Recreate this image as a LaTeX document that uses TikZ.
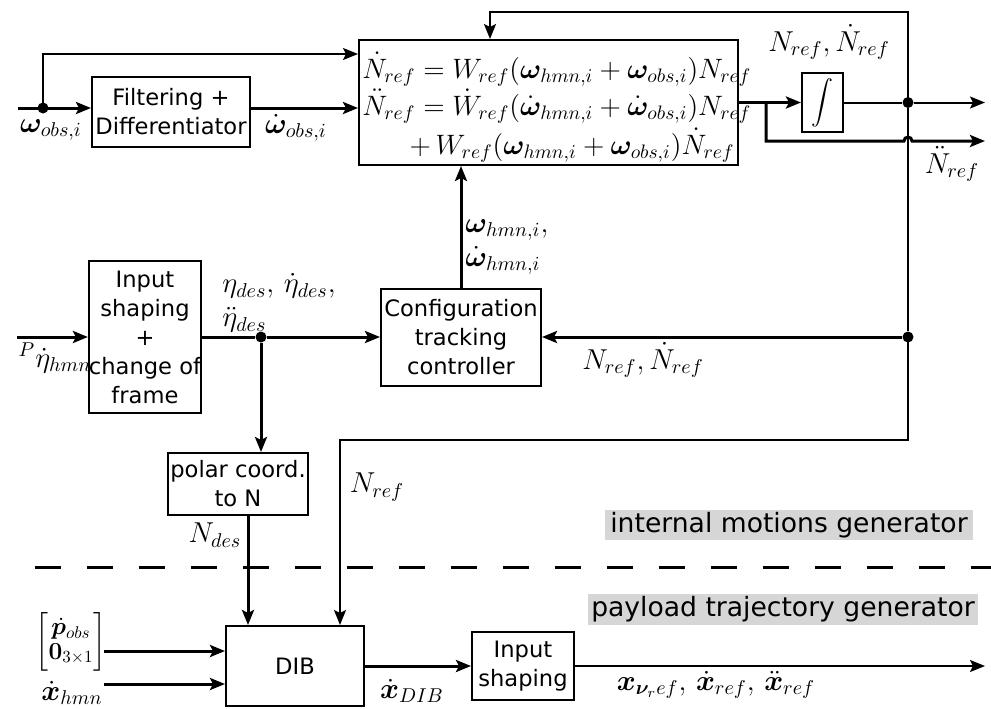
\documentclass[tikz,border=0pt]{standalone}
\usepackage{amsmath,bm,graphicx}
\usepackage{fontspec}
\setsansfont{DejaVu Sans}
\usetikzlibrary{arrows.meta}
\tikzset{
  blk/.style={draw, line width=1pt, font=\sffamily\fontsize{11.3}{14.5}\selectfont, align=center, inner sep=0pt},
  wthick/.style={line width=1.5pt},
  wthin/.style={line width=1pt},
  arr/.style={-{Stealth[length=7.5pt,width=6pt,inset=1.5pt]}},
  jdot/.style={circle, fill, inner sep=0pt, minimum size=5.5pt},
  mlab/.style={font=\fontsize{14.4}{17}\selectfont, inner sep=0pt, align=left},
  eqlab/.style={font=\fontsize{14.4}{16}\selectfont, inner sep=0pt},
  graylab/.style={fill=black!16, font=\sffamily\fontsize{13.3}{15}\selectfont, inner sep=0pt},
}
\begin{document}
\begin{tikzpicture}[x=0.5pt,y=-0.5pt]
\useasboundingbox (0,0) rectangle (991,708);
% blocks
\node[blk, minimum width=79pt, minimum height=35pt] (filt) at (171,112) {Filtering +\\Differentiator};
\node[draw, line width=1pt, minimum width=189.5pt, minimum height=62.5pt] (big) at (548.5,102.5) {};
\node[blk, minimum width=20.5pt, minimum height=29.5pt, font=\fontsize{10.95}{13}\selectfont] (integ) at (822.5,102.5) {$\displaystyle\int$};
\node[blk, minimum width=80pt, minimum height=48.5pt] (conf) at (461,337.5) {Configuration\\tracking\\controller};
\node[blk, minimum width=53pt, minimum height=76pt] (ins) at (145,337) {Input\\shaping\\+\\change of\\frame};
\node[blk, minimum width=70pt, minimum height=31pt] (polar) at (238,484) {polar coord.\\to N};
\node[blk, minimum width=69pt, minimum height=40pt] (dib) at (295,666) {DIB};
\node[blk, minimum width=51pt, minimum height=34pt] (ins2) at (523,666) {Input\\shaping};
\node[graylab, minimum width=184pt, minimum height=15pt] (gint) at (789,525) {internal motions generator};
\node[graylab, minimum width=195pt, minimum height=15.5pt] (gpay) at (783,609.5) {payload trajectory generator};
% equations
\node[eqlab, anchor=base west] (eq1) at (362,78) {\scalebox{0.975}{$\dot N_{ref} = W_{ref}(\bm\omega_{hmn,i}+\bm\omega_{obs,i})N_{ref}$}};
\node[eqlab, anchor=base west] (eq2) at (362,115) {\scalebox{0.975}{$\ddot N_{ref} = \dot W_{ref}(\dot{\bm\omega}_{hmn,i}+\dot{\bm\omega}_{obs,i})N_{ref}$}};
\node[eqlab, anchor=base east] (eq3) at (735,154) {\scalebox{0.975}{$+\,W_{ref}(\bm\omega_{hmn,i}+\bm\omega_{obs,i})\dot N_{ref}$}};
% junctions
\node[jdot] (d0) at (43,108) {};
\node[jdot] (d1) at (908,102.5) {};
\node[jdot] (d2) at (908,337) {};
\node[jdot] (d3) at (261,337) {};
\coordinate (win) at (18,108);
\coordinate (br) at (766,102.5);
\coordinate (nout) at (985,102.5);
\coordinate (ndd) at (985,141);
\coordinate (ftop) at (490,12);
\coordinate (fb) at (340,440);
\coordinate (pin) at (17,337);
\coordinate (pin1) at (104,651);
\coordinate (pin2) at (104,684);
\coordinate (xout) at (985,666);
% wires
\draw[wthick,arr] (win) -- (win -| filt.west);
\draw[wthin,arr] (d0.center) |- (big.west |- 0,54);
\draw[wthick,arr] (filt.east |- d0) -- (big.west |- d0);
\draw[wthick,arr] (big.east) -- (integ.west);
\draw[wthick,arr] (br) |- (904,141) arc[start angle=180,end angle=0,radius=2pt] -- (ndd);
\draw[wthin] (integ.east) -- (d1);
\draw[wthin,arr] (d1) -- (nout);
\draw[wthin,arr] (d1.center) |- (ftop) -- (ftop |- big.north);
\draw[wthin] (d1) -- (d2);
\draw[wthin,arr] (d2.center) |- (fb) -- (fb |- dib.north);
\draw[wthick,arr] (d2) -- (conf.east |- d2);
\draw[wthick,arr] (conf.north) -- (conf.north |- big.south);
\draw[wthick,arr] (pin) -- (pin -| ins.west);
\draw[wthick] (ins.east |- d3) -- (d3);
\draw[wthick,arr] (d3) -- (conf.west |- d3);
\draw[wthick,arr] (d3) -- (d3 |- polar.north);
\draw[wthick,arr] ([xshift=5pt]polar.south) -- ([xshift=5pt]polar.south |- dib.north);
\draw[wthick,arr] (pin1) -- (pin1 -| dib.west);
\draw[wthick,arr] (pin2) -- (pin2 -| dib.west);
\draw[wthick,arr] (dib.east) -- (ins2.west);
\draw[wthin,arr] (ins2.east) -- (xout);
\draw[line width=1.5pt, dash pattern=on 13pt off 13pt] (35,567) -- (991,567);
% labels
\node[mlab] (lwobs) at (51,130) {$\bm\omega_{obs,i}$};
\node[mlab] (lwdobs) at (296,128) {$\dot{\bm\omega}_{obs,i}$};
\node[mlab] (lntop) at (829,42) {$N_{ref},\dot N_{ref}$};
\node[mlab] (lndd) at (952,164) {$\ddot N_{ref}$};
\node[mlab, anchor=west] (lwhmn) at (465,247) {$\bm\omega_{hmn,i},$\\$\dot{\bm\omega}_{hmn,i}$};
\node[mlab, anchor=west] (leta) at (222,303) {$\eta_{des},\,\dot\eta_{des},$\\$\ddot\eta_{des}$};
\node[mlab] (lpeta) at (55,358) {${}^P\dot\eta_{hmn}$};
\node[mlab] (lnmid) at (643,360) {$N_{ref},\dot N_{ref}$};
\node[mlab] (lnref) at (377,487) {$N_{ref}$};
\node[mlab] (lndes) at (215,535) {$N_{des}$};
\node[mlab] (lpobs) at (71,642) {\scalebox{0.85}{\renewcommand\arraystretch{0.85}$\begin{bmatrix}\dot{\bm p}_{obs}\\ \bm 0_{3\times1}\end{bmatrix}$}};
\node[mlab] (lxhmn) at (72,693) {$\dot{\bm x}_{hmn}$};
\node[mlab] (lxdib) at (412,691) {$\dot{\bm x}_{DIB}$};
\node[mlab] (lxref) at (716,685) {$\bm x_{\bm\nu_ref},\,\dot{\bm x}_{ref},\,\ddot{\bm x}_{ref}$};
\end{tikzpicture}
\end{document}
